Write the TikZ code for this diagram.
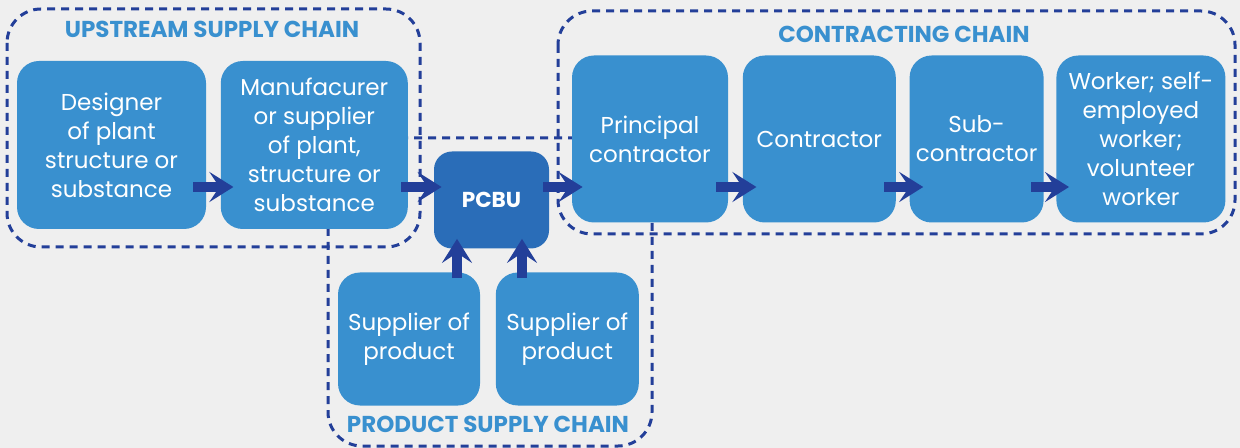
\documentclass[tikz,border=0pt]{standalone}
\usepackage{fontspec}
\setmainfont{Poppins}
\usetikzlibrary{arrows.meta,positioning}
\definecolor{pageGrey}{HTML}{EFEFEF}
\definecolor{stageBlue}{HTML}{3990CF}
\definecolor{pcbuBlue}{HTML}{2A6DB8}
\definecolor{frameBlue}{HTML}{233F99}
\tikzset{
    stage/.style={
           rectangle,
           rounded corners=11pt,
           fill=stageBlue,
           text=white,
           align=center,
           inner sep=0pt,
           font=\fontsize{11.5}{14.5}\selectfont},
    pcbuBox/.style={
           stage,
           fill=pcbuBlue,
           rounded corners=9pt,
           font=\bfseries\fontsize{10.8}{12}\selectfont},
    chainFrame/.style={
           draw=frameBlue,
           line width=1.5pt,
           dash pattern=on 4pt off 3pt,
           rounded corners=17pt},
    chainTitle/.style={
           text=stageBlue,
           font=\bfseries\fontsize{11.5}{13}\selectfont},
    flow/.style={
           -{Stealth[length=12pt,width=15pt,inset=5pt]},
           draw=frameBlue,
           line width=5pt}
}

\begin{document}
\begin{tikzpicture}[x=0.5pt, y=-0.5pt]
	\useasboundingbox[fill=pageGrey] (0,0) rectangle (1240,448);
	% dashed chain outlines
	\draw[chainFrame] (7,9) rectangle (420,247);
	\draw[chainFrame] (558,11) rectangle (1235,234);
	\draw[chainFrame] (328,138) rectangle (652,446);
	\node[chainTitle] (upTitle) at (212,29) {UPSTREAM SUPPLY CHAIN};
	\node[chainTitle] (contractTitle) at (904,34) {CONTRACTING CHAIN};
	\node[chainTitle] (productTitle) at (488,424) {PRODUCT SUPPLY CHAIN};
	% upstream supply chain
	\node[stage, minimum width=94.5pt, minimum height=84pt] (designer) at (111.5,145) {Designer\\of plant\\structure or\\substance};
	\node[stage, minimum width=93.5pt, minimum height=84pt, right=7pt of designer] (manufacturer) {Manufacurer\\or supplier\\of plant,\\structure or\\substance};
	\node[pcbuBox, minimum width=57.5pt, minimum height=48.5pt] (pcbu) at (491.5,200) {PCBU};
	% product supply chain
	\node[stage, minimum width=71pt, minimum height=66.5pt] (supplierA) at (409,339) {Supplier of\\product};
	\node[stage, minimum width=71.5pt, minimum height=66.5pt, right=7.5pt of supplierA] (supplierB) {Supplier of\\product};
	% contracting chain
	\node[stage, minimum width=78pt, minimum height=83.5pt] (principal) at (650,139) {Principal\\contractor};
	\node[stage, minimum width=76.5pt, minimum height=83.5pt, right=7pt of principal] (contractor) {Contractor};
	\node[stage, minimum width=67pt, minimum height=83.5pt, right=6.5pt of contractor] (subcontractor) {Sub-\\contractor};
	\node[stage, minimum width=84.5pt, minimum height=83.5pt, right=6pt of subcontractor] (worker) {Worker; self-\\employed\\worker;\\volunteer\\worker};
	% arrows
	\coordinate (flowRow) at (0,187);
	\coordinate (colA) at (457,0);
	\coordinate (colB) at (522,0);
	\draw[flow, shorten <=-6.5pt, shorten >=-6.5pt] (designer.east |- flowRow) -- (manufacturer.west |- flowRow);
	\draw[flow, shorten <=-3.5pt, shorten >=-4pt] (manufacturer.east |- flowRow) -- (pcbu.west |- flowRow);
	\draw[flow, shorten <=-3pt, shorten >=-5.5pt] (pcbu.east |- flowRow) -- (principal.west |- flowRow);
	\draw[flow, shorten <=-6pt, shorten >=-7pt] (principal.east |- flowRow) -- (contractor.west |- flowRow);
	\draw[flow, shorten <=-6pt, shorten >=-7pt] (contractor.east |- flowRow) -- (subcontractor.west |- flowRow);
	\draw[flow, shorten <=-6.5pt, shorten >=-6.5pt] (subcontractor.east |- flowRow) -- (worker.west |- flowRow);
	\draw[flow, shorten <=-3pt, shorten >=-5pt] (supplierA.north -| colA) -- (pcbu.south -| colA);
	\draw[flow, shorten <=-3pt, shorten >=-5pt] (supplierB.north -| colB) -- (pcbu.south -| colB);
\end{tikzpicture}
\end{document}
